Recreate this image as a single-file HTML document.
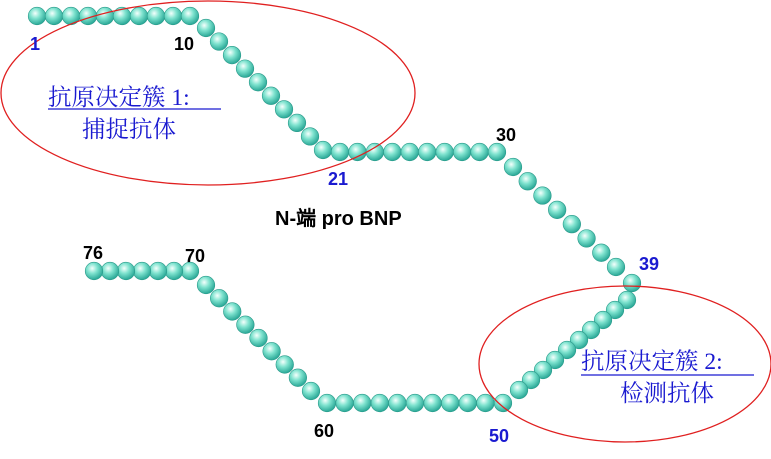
<!DOCTYPE html>
<html><head><meta charset="utf-8"><style>
body{margin:0;background:#fff;width:771px;height:454px;overflow:hidden}
</style></head><body>
<svg id="s" width="771" height="454" xmlns="http://www.w3.org/2000/svg">
<defs><radialGradient id="g" cx="40%" cy="35%" r="65%">
<stop offset="0" stop-color="#f4fffc"/><stop offset="0.45" stop-color="#7fe3cf"/><stop offset="1" stop-color="#2aa897"/></radialGradient></defs>
<g id="beads"></g>
<ellipse cx="208" cy="93" rx="207" ry="92" fill="none" stroke="#e02020" stroke-width="1.3"/>
<ellipse cx="625" cy="364" rx="146" ry="78" fill="none" stroke="#e02020" stroke-width="1.3"/>
<g font-family="Liberation Sans, sans-serif" font-weight="bold" font-size="18">
<text x="30" y="50" fill="#1a1ad0">1</text>
<text x="174" y="50" fill="#000">10</text>
<text x="328" y="185" fill="#1a1ad0">21</text>
<text x="496" y="141" fill="#000">30</text>
<text x="639" y="270" fill="#1a1ad0">39</text>
<text x="489" y="442" fill="#1a1ad0">50</text>
<text x="314" y="437" fill="#000">60</text>
<text x="185" y="262" fill="#000">70</text>
<text x="83" y="259" fill="#000">76</text>
<text x="275" y="225" fill="#000" font-size="20">N-端 pro BNP</text>
</g>
<g font-family="Liberation Serif, 'Noto Serif CJK SC', serif" font-size="23.5" fill="#1a1ad0">
<text x="48" y="105" xml:space="preserve">抗原决定簇 1:</text>
<line x1="48" y1="109" x2="221" y2="109" stroke="#1a1ad0" stroke-width="1.2"/>
<text x="82" y="137">捕捉抗体</text>
<text x="581" y="369" xml:space="preserve">抗原决定簇 2:</text>
<line x1="581" y1="375" x2="754" y2="375" stroke="#1a1ad0" stroke-width="1.2"/>
<text x="620" y="401">检测抗体</text>
</g>
</svg>
<script>
var wp=[[1,37,16],[10,190,16],[11,206,28],[20,323,150],[21,340,152],[30,497,152],[31,513,167],[38,616,267],[39,632,283],[40,627,300],[49,519,390],[50,503,403],[60,327,403],[61,311,391],[69,206,285],[70,190,271],[76,94,271]];
var out='';
for(var i=0;i<wp.length-1;i++){var a=wp[i],b=wp[i+1],n=b[0]-a[0];
for(var k=0;k<n;k++){var t=k/n;var x=a[1]+(b[1]-a[1])*t,y=a[2]+(b[2]-a[2])*t;
out+='<circle cx="'+x+'" cy="'+y+'" r="8.8" fill="url(#g)" stroke="#2a9a8a" stroke-width="0.6"/>';}}
var l=wp[wp.length-1];out+='<circle cx="'+l[1]+'" cy="'+l[2]+'" r="8.8" fill="url(#g)" stroke="#2a9a8a" stroke-width="0.6"/>';
document.getElementById('beads').innerHTML=out;
</script>
</body></html>
